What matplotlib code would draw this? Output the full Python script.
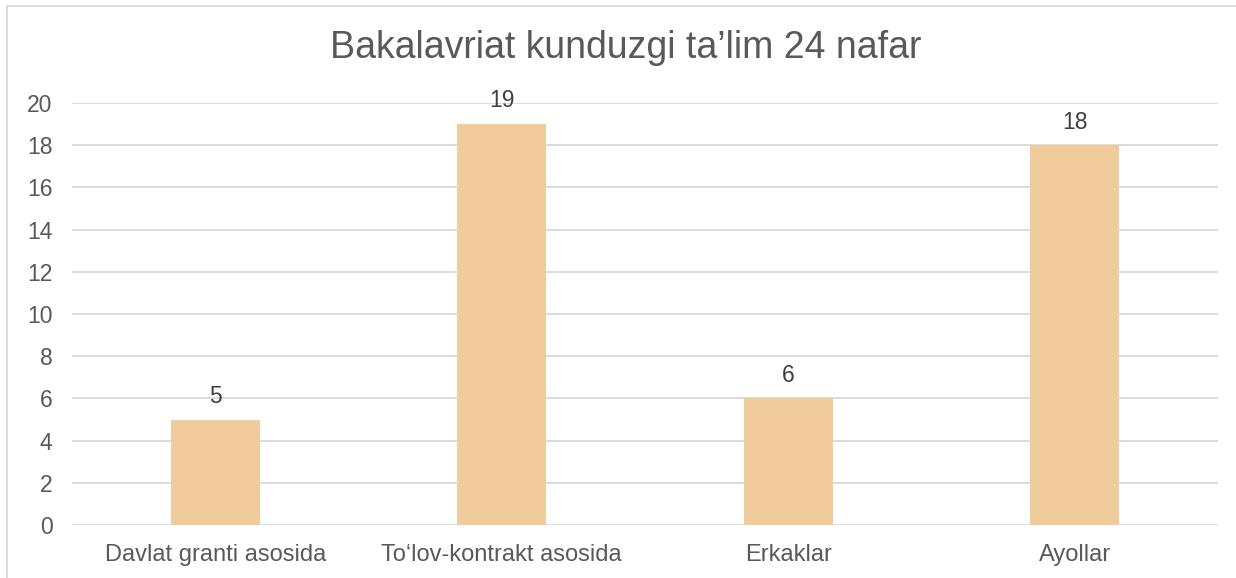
import matplotlib.pyplot as plt
from matplotlib.patches import Rectangle
import numpy as np

categories = ["Davlat granti asosida", "To\u2018lov-kontrakt asosida", "Erkaklar", "Ayollar"]
values = [5, 19, 6, 18]
yticks = [0, 2, 4, 6, 8, 10, 12, 14, 16, 18, 20]
title = "Bakalavriat kunduzgi ta\u2019lim 24 nafar"

plt.rcParams['font.family'] = ['Liberation Sans', 'DejaVu Sans']

fig = plt.figure(figsize=(12.36, 5.78), dpi=100)
ax = fig.add_axes([72 / 1236, 1 - 525 / 578, (1218 - 72) / 1236, (525 - 103) / 578])

x = np.arange(len(categories))
bars = ax.bar(x, values, width=0.31, color="#F0CC9C", zorder=3)
for b, v in zip(bars, values):
    ax.text(b.get_x() + b.get_width() / 2, v + 0.55, str(v), ha="center", va="bottom",
            fontsize=16.5, color="#404040", clip_on=False, zorder=4)

ax.set_xlim(-0.5, len(categories) - 0.5)
ax.set_ylim(0, 20)
ax.set_yticks(yticks)
ax.set_xticks(x)
ax.set_xticklabels(categories)
ax.tick_params(axis="both", length=0, labelcolor="#595959")
ax.tick_params(axis="y", pad=14, labelsize=16.5)
ax.tick_params(axis="x", pad=14, labelsize=17)
ax.yaxis.grid(True, color="#D9D9D9", linewidth=1.3, zorder=0)
for s in ax.spines.values():
    s.set_visible(False)

fig.text(626 / 1236, 1 - 48 / 578, title, ha="center", va="center", fontsize=27, color="#595959")

fig.patches.append(Rectangle((7 / 1236, -0.5), 2, 0.5 + 1 - 6 / 578, transform=fig.transFigure,
                             fill=False, edgecolor="#D9D9D9", linewidth=1.3))

fig.savefig("out.png", dpi=100)
